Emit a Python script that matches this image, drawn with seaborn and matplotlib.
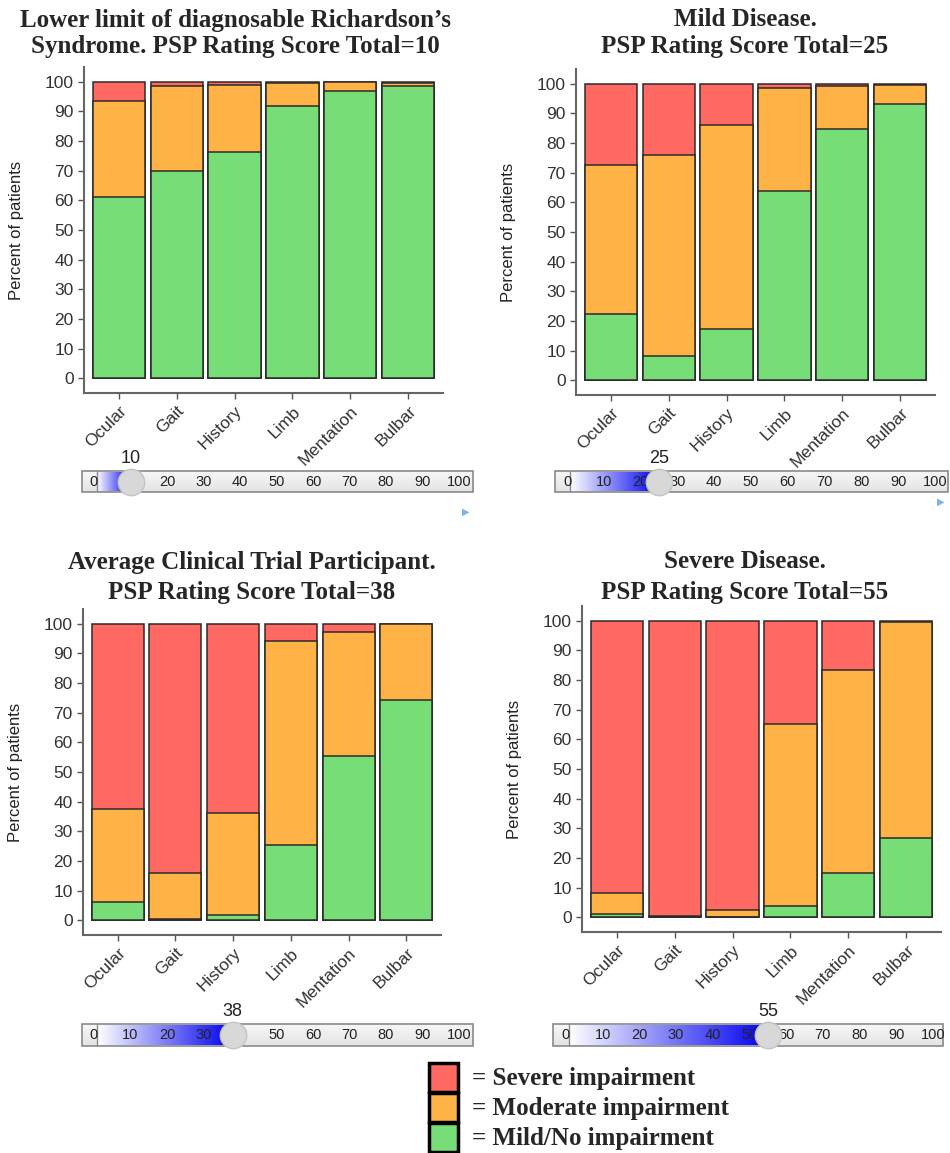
import numpy as np
import matplotlib
matplotlib.use("Agg")
import matplotlib.pyplot as plt
import seaborn as sns
from matplotlib.colors import LinearSegmentedColormap
from matplotlib.patches import Rectangle

# Domains of the PSP rating scale
domains = ["Ocular", "Gait", "History", "Limb", "Mentation", "Bulbar"]

# Percent of patients (mild/no, moderate, severe) for each total score
mild_10 = [61.2, 69.8, 76.4, 92.0, 96.8, 98.6]
moderate_10 = [32.3, 28.7, 22.6, 7.6, 3.0, 1.0]
severe_10 = [6.5, 1.5, 1.0, 0.4, 0.2, 0.4]

mild_25 = [22.3, 8.0, 17.2, 63.8, 84.7, 93.3]
moderate_25 = [50.2, 68.0, 68.8, 34.9, 14.6, 6.4]
severe_25 = [27.5, 24.0, 14.0, 1.3, 0.7, 0.3]

mild_38 = [6.0, 0.3, 1.7, 25.2, 55.3, 74.3]
moderate_38 = [31.5, 15.5, 34.3, 69.1, 42.1, 25.7]
severe_38 = [62.5, 84.2, 64.0, 5.7, 2.6, 0.0]

mild_55 = [1.0, 0.1, 0.2, 3.7, 14.8, 26.7]
moderate_55 = [7.0, 0.3, 2.3, 61.5, 68.7, 72.8]
severe_55 = [92.0, 99.6, 97.5, 34.8, 16.5, 0.5]

scores = [10, 25, 38, 55]
titles = [
    ("Lower limit of diagnosable Richardson\u2019s", "Syndrome. PSP Rating Score Total=10"),
    ("Mild Disease.", "PSP Rating Score Total=25"),
    ("Average Clinical Trial Participant.", "PSP Rating Score Total=38"),
    ("Severe Disease.", "PSP Rating Score Total=55"),
]
slider_ticks = list(range(0, 101, 10))
legend_labels = ["= Severe impairment", "= Moderate impairment", "= Mild/No impairment"]

RED = "#FF6961"
ORANGE = "#FFB347"
GREEN = "#77DD77"

W, H = 950, 1153

sns.set_style("ticks")
plt.rcParams["font.family"] = ["Liberation Sans", "DejaVu Sans"]

fig = plt.figure(figsize=(W / 100, H / 100), dpi=100)


def px_rect(x0, y0, x1, y1):
    # pixel box (top-left origin) -> figure fraction rect
    return [x0 / W, 1 - y1 / H, (x1 - x0) / W, (y1 - y0) / H]


# axes boxes in pixels: left, top, right, bottom
panel_boxes = [(84, 67, 443, 393), (576, 69, 935, 395),
               (83, 609, 441, 935), (582, 606, 941, 932)]
title_pos = [(235, 20, 47), (745, 20, 47), (252, 562, 592), (745, 562, 592)]
data = [(mild_10, moderate_10, severe_10), (mild_25, moderate_25, severe_25),
        (mild_38, moderate_38, severe_38), (mild_55, moderate_55, severe_55)]

for box, (mild, mod, sev), (t1, t2), (tx, ty1, ty2) in zip(panel_boxes, data, titles, title_pos):
    ax = fig.add_axes(px_rect(*box))
    top = np.array(mild) + np.array(mod) + np.array(sev)
    middle = np.array(mild) + np.array(mod)
    for heights, col in [(top, RED), (middle, ORANGE), (np.array(mild), GREEN)]:
        sns.barplot(x=domains, y=heights, order=domains, color=col, saturation=1,
                    edgecolor="#2b2b2b", linewidth=1.1, width=0.9, errorbar=None, ax=ax)
    ax.set_xlim(-0.6, 5.6)
    ax.set_ylim(-5, 105)
    ax.set_yticks(range(0, 101, 10))
    ax.set_ylabel("Percent of patients", fontsize=12, color="#222222", labelpad=15)
    ax.set_xlabel("")
    ax.tick_params(axis="both", length=4, width=1, color="#555555", labelcolor="#333333")
    ax.tick_params(axis="y", labelsize=12.5)
    plt.setp(ax.get_xticklabels(), rotation=45, ha="right", rotation_mode="anchor", fontsize=12.5)
    for s in ["top", "right"]:
        ax.spines[s].set_visible(False)
    for s in ["left", "bottom"]:
        ax.spines[s].set_color("#666666")
        ax.spines[s].set_linewidth(1.5)
    fig.text(tx / W, 1 - ty1 / H, t1, ha="center", va="center", fontsize=18,
             fontweight="bold", family="Liberation Serif")
    fig.text(tx / W, 1 - ty2 / H, t2, ha="center", va="center", fontsize=18,
             fontweight="bold", family="Liberation Serif")

# sliders: box in px, px of 0 and of 100
slider_boxes = [(82, 471, 473, 492, 94, 459), (555, 471, 948, 492, 567, 935),
                (82, 1024, 473, 1046, 94, 459), (553, 1024, 943, 1046, 566, 933)]
blue_cmap = LinearSegmentedColormap.from_list("b", ["#ffffff", "#0000f0"])
gray_cmap = LinearSegmentedColormap.from_list("g", ["#f7f7f7", "#e4e4e4"])

for (x0, y0, x1, y1, p0, p100), val in zip(slider_boxes, scores):
    sax = fig.add_axes(px_rect(x0, y0, x1, y1))
    unit = (p100 - p0) / 100
    lo, hi = (x0 - p0) / unit, (x1 - p0) / unit
    start = 3.0 / unit
    sax.imshow(np.linspace(0, 1, 40).reshape(-1, 1), extent=[lo, hi, 0, 1],
               cmap=gray_cmap, aspect="auto")
    sax.imshow(np.linspace(0, 1, 200).reshape(1, -1), extent=[start, val, 0.06, 0.94],
               cmap=blue_cmap, aspect="auto")
    sax.set_xlim(lo, hi)
    sax.set_ylim(0, 1)
    sax.axis("off")
    sax.add_patch(Rectangle((lo, 0), hi - lo, 1, fill=False, edgecolor="#8a8a8a",
                            linewidth=1.2, clip_on=False))
    sax.plot([start, start], [0, 1], color="#8a8a8a", linewidth=1)
    for t in slider_ticks:
        sax.text(t, 0.5, str(t), ha="center", va="center", fontsize=10.5, color="#222222")
    sax.plot([val], [0.5], marker="o", markersize=19, color="#d8d8d8",
             markeredgecolor="#c4c4c4", clip_on=False, zorder=5)
    sax.annotate(str(val), (val, 1), xytext=(0, 3), textcoords="offset points",
                 ha="center", va="bottom", fontsize=13, color="#222222")

for tx, ty in [(466, 512), (941, 502)]:
    fig.text(tx / W, 1 - ty / H, "\u25B6", color="#7fb2e5", fontsize=7,
             ha="center", va="center", family="DejaVu Sans")

# legend at bottom
legend_colors = [RED, ORANGE, GREEN]
for i, (lab, col) in enumerate(zip(legend_labels, legend_colors)):
    yt = 1063 + 30 * i
    fig.add_artist(Rectangle((429 / W, 1 - (yt + 29) / H), 29 / W, 29 / H,
                             facecolor=col, edgecolor="black", linewidth=2.5,
                             transform=fig.transFigure))
    fig.text(472 / W, 1 - (yt + 15) / H, lab, ha="left", va="center", fontsize=18,
             fontweight="bold", family="Liberation Serif")

fig.savefig("out.png", dpi=100)
